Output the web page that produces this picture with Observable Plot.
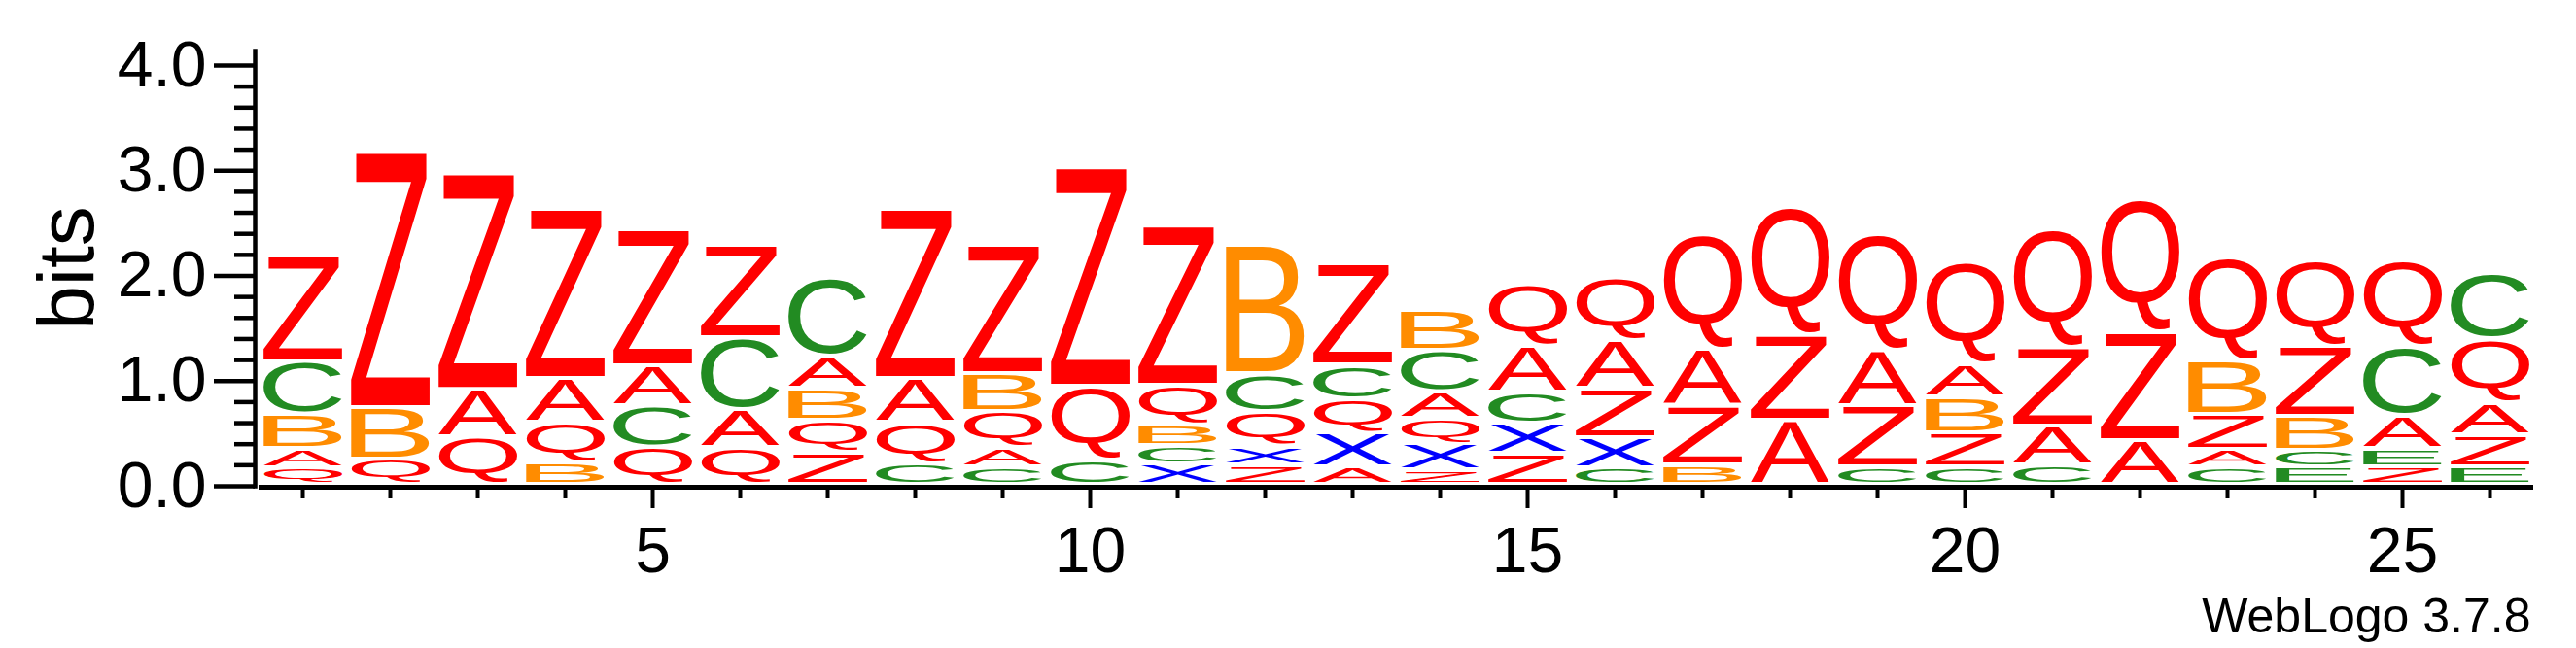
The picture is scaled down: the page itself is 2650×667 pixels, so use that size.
<!DOCTYPE html>
<html>
<head>
<meta charset="utf-8">
<script src="https://cdn.jsdelivr.net/npm/d3@7"></script>
<script src="https://cdn.jsdelivr.net/npm/@observablehq/plot@0.6"></script>
<style>
  html, body { margin: 0; padding: 0; background: #fff; }
</style>
</head>
<body>
<div id="chart"></div>
<script>
// Sequence positions
const positions = [1,2,3,4,5,6,7,8,9,10,11,12,13,14,15,16,17,18,19,20,21,22,23,24,25,26];

// Letters of each stack, bottom to top
const stackLetters = [
  "QABCZ", "QBZ", "QAZ", "BQAZ", "QCAZ", "QACZ", "ZQBAC", "CQAZ", "CAQBZ", "CQZ",
  "XCBQZ", "ZXQCB", "AXQCZ", "ZXQACB", "ZXCAQ", "CXZAQ", "BZAQ", "AZQ", "CZAQ", "CZBAQ",
  "CAZQ", "AZQ", "CAZBQ", "ECBZQ", "ZEACQ", "EZAQC"
];

// Height (bits) of each letter in each stack, bottom to top
const stackBits = [
  [0.157, 0.185, 0.323, 0.499, 1.006],
  [0.240, 0.489, 2.437],
  [0.452, 0.452, 2.059],
  [0.203, 0.388, 0.415, 1.615],
  [0.360, 0.388, 0.378, 1.292],
  [0.351, 0.360, 0.683, 0.877],
  [0.305, 0.305, 0.305, 0.305, 0.748],
  [0.194, 0.397, 0.415, 1.615],
  [0.166, 0.185, 0.342, 0.360, 1.228],
  [0.231, 0.702, 2.086],
  [0.194, 0.175, 0.194, 0.378, 1.523],
  [0.185, 0.175, 0.332, 0.360, 1.228],
  [0.166, 0.323, 0.323, 0.323, 0.969],
  [0.138, 0.249, 0.240, 0.258, 0.388, 0.378],
  [0.295, 0.286, 0.295, 0.443, 0.591],
  [0.157, 0.286, 0.471, 0.452, 0.600],
  [0.185, 0.563, 0.535, 1.098],
  [0.609, 0.812, 1.209],
  [0.166, 0.582, 0.526, 1.108],
  [0.166, 0.323, 0.342, 0.314, 0.969],
  [0.185, 0.369, 0.748, 1.117],
  [0.415, 1.034, 1.255],
  [0.166, 0.166, 0.332, 0.508, 0.988],
  [0.166, 0.157, 0.323, 0.665, 0.812],
  [0.166, 0.175, 0.314, 0.655, 0.812],
  [0.166, 0.305, 0.305, 0.609, 0.619]
];

// Colour scheme
const colorLetters = ["A", "B", "C", "E", "Q", "X", "Z"];
const colorValues  = ["#ff0000", "#ff8c00", "#228b22", "#228b22", "#ff0000", "#0000ff", "#ff0000"];

// Axis ticks
const yMajorTicks = [0, 1, 2, 3, 4];
const yMinorTicks = [0.2, 0.4, 0.6, 0.8, 1.2, 1.4, 1.6, 1.8, 2.2, 2.4, 2.6, 2.8, 3.2, 3.4, 3.6, 3.8];
const xMajorTicks = [5, 10, 15, 20, 25];
const yLabel = "bits";
const creditText = "WebLogo 3.7.8";

// Build table
const glyphs = [];
stackLetters.forEach((letters, i) => {
  let base = 0;
  Array.from(letters).forEach((ch, j) => {
    const h = stackBits[i][j];
    glyphs.push({pos: positions[i], letter: ch, y1: base, y2: base + h});
    base += h;
  });
});

const FONT = "Liberation Sans, Arial, Helvetica, sans-serif";

const chart = Plot.plot({
  width: 2650,
  height: 667,
  marginLeft: 266,
  marginRight: 44,
  marginTop: 67,
  marginBottom: 167,
  x: {domain: [0.5, 26.5]},
  y: {domain: [0, 4]},
  color: {domain: colorLetters, range: colorValues},
  style: {fontFamily: FONT, background: "#ffffff", color: "#000"},
  marks: [
    Plot.text(glyphs, {
      x: "pos",
      y: d => (d.y1 + d.y2) / 2,
      text: "letter",
      fill: "letter",
      fontSize: 100
    }),
    // y axis line
    Plot.ruleX([0.5], {y1: -0.025, y2: 4.155, stroke: "#000", strokeWidth: 4.5, dx: -4}),
    // x axis line
    Plot.ruleY([0], {x1: 0.5, x2: 26.5, stroke: "#000", strokeWidth: 5, dy: 1}),
    Plot.axisY(yMajorTicks, {
      tickSize: 42, tickPadding: 8, dx: -4, strokeWidth: 4.5,
      tickFormat: d => d.toFixed(1), fontSize: 66, label: null
    }),
    Plot.axisY(yMinorTicks, {
      tickSize: 21, dx: -4, strokeWidth: 4.5, text: null, label: null
    }),
    Plot.axisX(positions.filter(p => !xMajorTicks.includes(p)), {
      tickSize: 11, strokeWidth: 4, text: null, label: null, dy: 2
    }),
    Plot.axisX(xMajorTicks, {
      tickSize: 21, tickPadding: 19, strokeWidth: 4, fontSize: 66, label: null, dy: 2,
      tickFormat: d => String(d)
    }),
    Plot.text([yLabel], {
      frameAnchor: "left", dx: -197, dy: -8, rotate: -90,
      textAnchor: "middle", lineAnchor: "middle", fontSize: 82, fill: "#000"
    }),
    Plot.text([creditText], {
      frameAnchor: "bottom-right", dx: -3, dy: 134,
      textAnchor: "end", lineAnchor: "middle", fontSize: 50, fill: "#000"
    })
  ]
});

document.getElementById("chart").appendChild(chart);

// Stretch each glyph so that its ink fills its box (WebLogo style)
(function stretchGlyphs() {
  const xs = chart.scale("x");
  const ys = chart.scale("y");
  const ctx = document.createElement("canvas").getContext("2d");
  ctx.font = '100px "Liberation Sans"';
  const metrics = {};
  colorLetters.forEach(ch => {
    const m = ctx.measureText(ch);
    metrics[ch] = {
      left: m.actualBoundingBoxLeft,
      right: m.actualBoundingBoxRight,
      ascent: m.actualBoundingBoxAscent,
      descent: m.actualBoundingBoxDescent
    };
  });
  const glyphWidth = 81;
  const gap = 4.5;
  const g = chart.querySelector('g[aria-label="text"]');
  if (!g) return;
  const nodes = Array.from(g.querySelectorAll("text"));
  nodes.forEach((node, k) => {
    const idx = (typeof node.__data__ === "number") ? node.__data__ : k;
    const d = glyphs[idx];
    if (!d) return;
    const m = metrics[d.letter];
    const cx = xs.apply(d.pos);
    const yTop = ys.apply(d.y2);
    const yBot = ys.apply(d.y1) - gap;
    const h = yBot - yTop;
    if (h <= 0.3) { node.remove(); return; }
    const sx = glyphWidth / (m.left + m.right);
    const sy = h / (m.ascent + m.descent);
    ["x", "y", "dx", "dy"].forEach(a => node.removeAttribute(a));
    node.setAttribute("text-anchor", "start");
    node.setAttribute("font-size", "100");
    node.style.fontSize = "100px";
    node.style.fontFamily = '"Liberation Sans"';
    node.setAttribute("transform",
      `translate(${cx - glyphWidth / 2},${yTop}) scale(${sx},${sy}) translate(${m.left},${m.ascent})`);
  });
})();
</script>
</body>
</html>
